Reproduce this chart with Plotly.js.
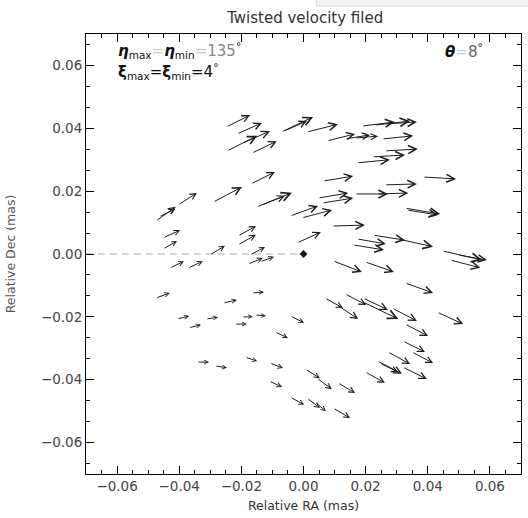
<!DOCTYPE html>
<html>
<head>
<meta charset="utf-8">
<script src="https://cdn.plot.ly/plotly-3.0.1.min.js"></script>
<style>html,body{margin:0;padding:0;background:#fff;}#chart{width:528px;height:518px;}</style>
</head>
<body>
<div id="chart"></div>
<script>
// Axis ranges and ticks
const xRange = [-0.07, 0.07];
const yRange = [-0.07, 0.07];
const tickVals = [-0.06, -0.04, -0.02, 0.00, 0.02, 0.04, 0.06];
const origin = [0, 0];

// Arrow tails (Relative RA, Relative Dec) in mas
const tailX = [
  -0.0249,-0.0214,-0.0246,-0.0195,-0.0166,-0.0072,-0.0063,-0.0169,-0.0291,-0.0404,
  -0.0475,-0.0465,-0.0150,-0.0134,-0.0043,-0.0021,-0.0452,-0.0452,-0.0211,-0.0211,
  -0.0301,-0.0172,
  0.0011,0.0188,0.0230,0.0262,0.0076,0.0134,0.0166,0.0253,0.0262,0.0221,
  0.0172,0.0063,0.0385,0.0262,0.0166,0.0237,0.0047,0.0060,0.0327,0.0333,
  -0.0005,0.0092,0.0224,0.0172,0.0159,0.0304,0.0446,0.0497,
  0.0472,0.0095,0.0198,0.0327,0.0134,0.0192,0.0069,0.0108,0.0192,0.0285,
  0.0430,0.0327,0.0320,0.0349,0.0272,0.0237,0.0246,0.0320,0.0198,0.0043,
  0.0111,0.0037,0.0095,
  -0.0430,-0.0372,-0.0179,-0.0140,-0.0475,-0.0166,-0.0259,-0.0407,-0.0314,-0.0198,
  -0.0156,-0.0043,-0.0369,-0.0221,-0.0092,-0.0343,-0.0285,-0.0188,-0.0108,-0.0111,
  0.0005,-0.0043,0.0011
];
const tailY = [
  0.0404,0.0382,0.0328,0.0353,0.0321,0.0388,0.0391,0.0223,0.0165,0.0156,
  0.0105,0.0118,0.0150,0.0156,0.0121,0.0035,0.0051,0.0016,0.0057,0.0029,
  -0.0003,-0.0003,
  0.0388,0.0407,0.0410,0.0414,0.0360,0.0366,0.0369,0.0366,0.0328,0.0309,
  0.0290,0.0232,0.0245,0.0220,0.0191,0.0191,0.0178,0.0162,0.0146,0.0140,
  0.0115,0.0089,0.0060,0.0048,0.0029,0.0048,0.0010,-0.0003,
  -0.0019,-0.0022,-0.0025,-0.0092,-0.0127,-0.0140,-0.0140,-0.0162,-0.0153,-0.0172,
  -0.0185,-0.0223,-0.0277,-0.0312,-0.0312,-0.0340,-0.0347,-0.0360,-0.0375,-0.0395,
  -0.0410,-0.0471,-0.0490,
  -0.0045,-0.0045,-0.0032,-0.0025,-0.0140,-0.0124,-0.0156,-0.0207,-0.0207,-0.0200,
  -0.0194,-0.0197,-0.0235,-0.0223,-0.0248,-0.0344,-0.0356,-0.0328,-0.0347,-0.0404,
  -0.0366,-0.0455,-0.0458
];
// Arrow components (dRA, dDec) in mas
const velU = [
  0.0077,0.0080,0.0097,0.0087,0.0080,0.0103,0.0074,0.0077,0.0093,0.0061,
  0.0064,0.0052,0.0113,0.0074,0.0090,0.0077,0.0055,0.0045,0.0058,0.0058,
  0.0048,0.0048,
  0.0100,0.0106,0.0113,0.0103,0.0090,0.0080,0.0074,0.0100,0.0106,0.0106,
  0.0106,0.0097,0.0106,0.0103,0.0106,0.0100,0.0097,0.0100,0.0113,0.0100,
  0.0097,0.0106,0.0103,0.0093,0.0100,0.0113,0.0129,0.0093,
  0.0097,0.0093,0.0093,0.0090,0.0068,0.0080,0.0058,0.0068,0.0113,0.0080,
  0.0084,0.0074,0.0071,0.0068,0.0071,0.0080,0.0058,0.0077,0.0064,0.0048,
  0.0055,0.0035,0.0055,
  0.0045,0.0048,0.0048,0.0045,0.0045,0.0039,0.0045,0.0039,0.0039,0.0035,
  0.0035,0.0045,0.0039,0.0039,0.0042,0.0039,0.0039,0.0039,0.0042,0.0042,
  0.0048,0.0045,0.0042
];
const velV = [
  0.0038,0.0035,0.0048,0.0038,0.0038,0.0048,0.0032,0.0038,0.0048,0.0038,
  0.0045,0.0025,0.0045,0.0029,0.0032,0.0035,0.0025,0.0025,0.0032,0.0032,
  0.0029,0.0025,
  0.0025,0.0013,0.0013,0.0006,0.0022,0.0013,0.0006,0.0010,0.0006,0.0006,
  0.0010,0.0016,-0.0006,0.0003,0.0000,0.0003,0.0016,0.0016,-0.0019,-0.0016,
  0.0025,0.0003,-0.0016,-0.0016,-0.0016,-0.0025,-0.0029,-0.0016,
  -0.0025,-0.0035,-0.0032,-0.0032,-0.0035,-0.0038,-0.0032,-0.0045,-0.0054,-0.0041,
  -0.0038,-0.0038,-0.0035,-0.0035,-0.0038,-0.0041,-0.0029,-0.0038,-0.0035,-0.0035,
  -0.0032,-0.0029,-0.0032,
  0.0022,0.0022,0.0019,0.0016,0.0016,0.0003,0.0010,0.0010,0.0006,0.0000,
  -0.0003,-0.0022,0.0010,0.0000,-0.0019,0.0000,-0.0006,-0.0013,-0.0016,-0.0019,
  -0.0029,-0.0025,-0.0032
];

const pxPerUnit = 3107;
const annotations = [];
for (let i = 0; i < tailX.length; i++) {
  const lenPx = Math.hypot(velU[i], velV[i]) * pxPerUnit;
  const size = Math.max(0.7, Math.min(1.75, 0.35 + 0.037 * lenPx));
  annotations.push({
    xref: 'x', yref: 'y', axref: 'x', ayref: 'y',
    x: tailX[i] + velU[i], y: tailY[i] + velV[i],
    ax: tailX[i], ay: tailY[i],
    text: '', showarrow: true,
    arrowhead: 5, arrowsize: size, arrowwidth: 1.0,
    arrowcolor: '#1e1e1e', standoff: 0, startstandoff: 0
  });
}

const FONT = 'DejaVu Sans, Liberation Sans, Arial, sans-serif';
const lbl = {family: FONT, size: 15, color: '#111'};
annotations.push({
  xref: 'paper', yref: 'paper', x: 0.07, y: 0.962, xanchor: 'left', yanchor: 'middle',
  showarrow: false, font: lbl,
  text: '<i><b>η</b></i><sub>max</sub><span style="color:#ccc">=</span><i><b>η</b></i><sub>min</sub><span style="color:#ccc">=</span><span style="color:#888">135</span><sup>°</sup>'
});
annotations.push({
  xref: 'paper', yref: 'paper', x: 0.07, y: 0.915, xanchor: 'left', yanchor: 'middle',
  showarrow: false, font: lbl,
  text: '<b>ξ</b><sub>max</sub>=<b>ξ</b><sub>min</sub>=4<sup>°</sup>'
});
annotations.push({
  xref: 'paper', yref: 'paper', x: 0.82, y: 0.962, xanchor: 'left', yanchor: 'middle',
  showarrow: false, font: lbl,
  text: '<i><b>θ</b></i><span style="color:#ccc">=</span><span style="color:#666">8</span><sup>°</sup>'
});

const axisCommon = {
  showgrid: false, zeroline: false,
  showline: true, linecolor: '#000', linewidth: 1, mirror: 'allticks',
  ticks: 'inside', ticklen: 8, tickwidth: 1, tickcolor: '#000',
  tickvals: tickVals, tickformat: '.2f',
  tickfont: {family: FONT, size: 13.5, color: '#444'}
};

const layout = {
  width: 528, height: 518,
  margin: {l: 86, r: 7, t: 34, b: 44},
  paper_bgcolor: '#fff', plot_bgcolor: '#fff',
  showlegend: false,
  title: {text: 'Twisted velocity filed', x: 0.578, xanchor: 'center', y: 0.965, yanchor: 'middle',
          yref: 'container',
          font: {family: FONT, size: 15, color: '#333'}},
  xaxis: Object.assign({}, axisCommon, {
    range: xRange,
    minor: {dtick: 0.005, tick0: 0, ticks: 'inside', ticklen: 4, tickcolor: '#000', showgrid: false},
    title: {text: 'Relative RA (mas)', standoff: 8,
            font: {family: FONT, size: 12.5, color: '#333'}}
  }),
  yaxis: Object.assign({}, axisCommon, {
    range: yRange,
    minor: {dtick: 0.02/3, tick0: 0, ticks: 'inside', ticklen: 4, tickcolor: '#000', showgrid: false},
    title: {text: 'Relative Dec (mas)', standoff: 22,
            font: {family: FONT, size: 12.5, color: '#555'}}
  }),
  annotations: annotations,
  shapes: [{
    type: 'rect', xref: 'paper', yref: 'paper', x0: 0.53, x1: 1.05, y0: 1.063, y1: 1.2,
    fillcolor: '#f3f3f3', line: {color: '#dcdcdc', width: 1}, layer: 'above'
  }]
};

const traces = [
  {type: 'scatter', mode: 'lines', x: [xRange[0], origin[0]], y: [origin[1], origin[1]],
   line: {color: '#c8c8c8', width: 1.5, dash: '7px,5px'}, hoverinfo: 'skip'},
  {type: 'scatter', mode: 'markers', x: [origin[0]], y: [origin[1]],
   marker: {symbol: 'diamond', size: 6, color: '#111'}, hoverinfo: 'skip'}
];

Plotly.newPlot('chart', traces, layout, {displayModeBar: false, staticPlot: true});
</script>
</body>
</html>
